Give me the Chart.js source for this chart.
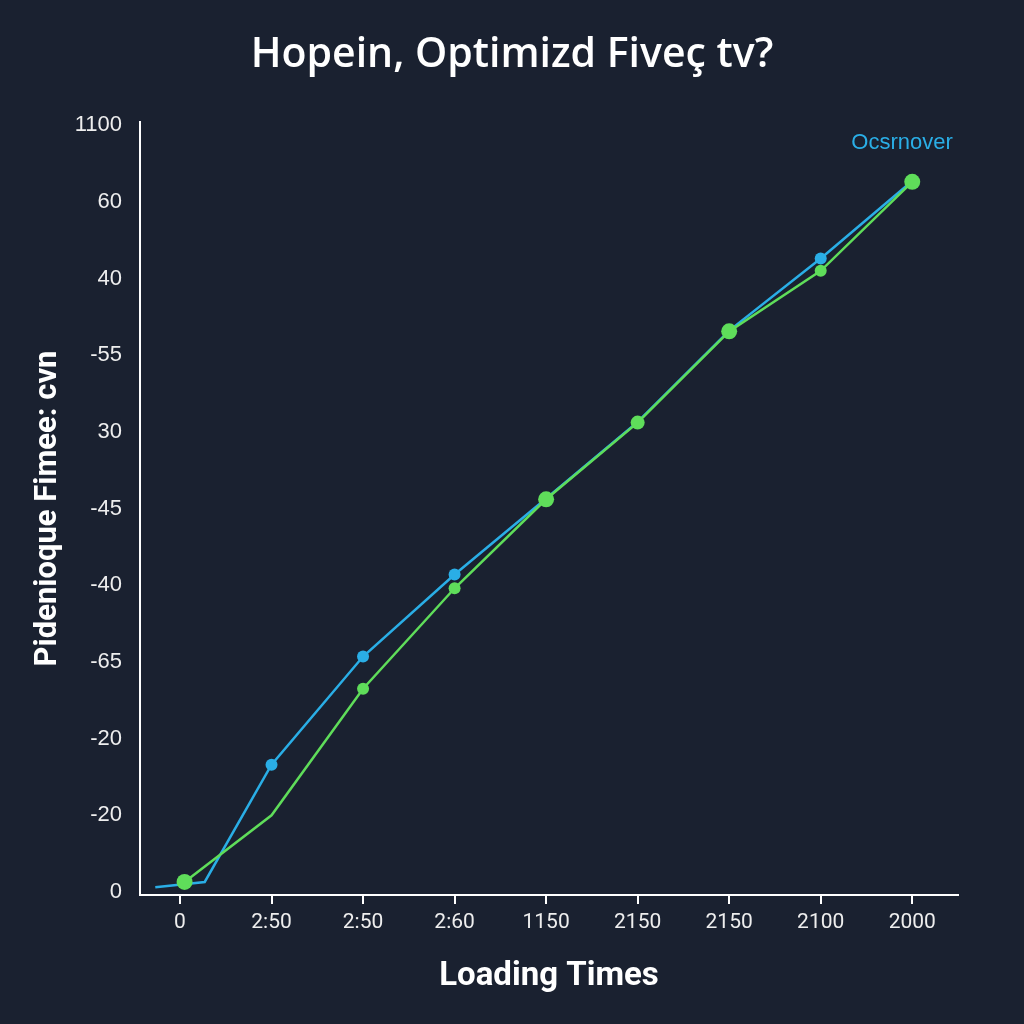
<!DOCTYPE html>
<html>
<head>
<meta charset="utf-8">
<script src="https://cdn.jsdelivr.net/npm/chart.js@4/dist/chart.umd.min.js"></script>
<style>
  html, body { margin: 0; padding: 0; background: #1a2130; }
  #wrap { width: 1024px; height: 1024px; }
</style>
</head>
<body>
<div id="wrap"><canvas id="c" width="1024" height="1024"></canvas></div>
<script>
const titleText = "Hopein, Optimizd Fiveç tv?";
const xTitle = "Loading Times";
const yTitle = "Pidenioque Fimee: cvn";
const legendText = "Ocsrnover";
const xTickLabels = ["0", "2:50", "2:50", "2:60", "1150", "2150", "2150", "2100", "2000"];
const yTickLabels = ["0", "-20", "-20", "-65", "-40", "-45", "30", "-55", "40", "60", "1100"];

const blueX = [-0.27, 0.27, 1, 2, 3, 4, 5, 6, 7, 8];
const blueY = [0.06, 0.13, 1.66, 3.07, 4.14, 5.13, 6.13, 7.32, 8.26, 9.27];
const blueRadius = [0, 0, 6, 6, 6, 5, 0, 6, 6, 6];

const greenX = [0.05, 1, 2, 3, 4, 5, 6, 7, 8];
const greenY = [0.13, 1.0, 2.65, 3.96, 5.12, 6.12, 7.31, 8.10, 9.26];
const greenRadius = [8, 0, 6, 6, 8, 7, 8, 6, 8];

const blueColor = "#2aaee6";
const greenColor = "#5fdd5a";

const toPts = (xs, ys) => xs.map((x, i) => ({ x: x, y: ys[i] }));

const textPlugin = {
  id: "textPlugin",
  afterDraw(chart) {
    const ctx = chart.ctx;
    const a = chart.chartArea;
    ctx.save();
    ctx.textAlign = "center";
    ctx.textBaseline = "middle";
    ctx.font = "600 41px 'Open Sans', 'Noto Sans', sans-serif";
    ctx.fillStyle = "#ffffff";
    ctx.fillText(titleText, chart.width / 2, 55);
    ctx.font = "22px 'Liberation Sans', Arial, sans-serif";
    ctx.fillStyle = blueColor;
    ctx.fillText(legendText, a.right - 56, a.top + 21);
    ctx.restore();
  }
};

new Chart(document.getElementById("c"), {
  type: "line",
  data: {
    datasets: [
      {
        label: legendText,
        data: toPts(blueX, blueY),
        borderColor: blueColor,
        backgroundColor: blueColor,
        borderWidth: 2.5,
        pointRadius: blueRadius,
        pointBorderWidth: 0,
        tension: 0,
        order: 1
      },
      {
        label: "green",
        data: toPts(greenX, greenY),
        borderColor: greenColor,
        backgroundColor: greenColor,
        borderWidth: 2.5,
        pointRadius: greenRadius,
        pointBorderWidth: 0,
        tension: 0,
        order: 0
      }
    ]
  },
  options: {
    responsive: false,
    animation: false,
    devicePixelRatio: 1,
    layout: { padding: { left: 0, right: 66, top: 122, bottom: 0 } },
    plugins: {
      legend: { display: false },
      tooltip: { enabled: false },
      title: { display: false }
    },
    scales: {
      x: {
        type: "linear",
        min: -0.437,
        max: 8.5,
        afterBuildTicks(scale) {
          scale.ticks = xTickLabels.map((_, i) => ({ value: i }));
        },
        afterFit(scale) { scale.height = 129; },
        ticks: {
          color: "#eeeeee",
          font: { family: "Roboto, sans-serif", size: 21 },
          padding: 6,
          maxRotation: 0,
          autoSkip: false,
          callback: (v) => xTickLabels[Math.round(v)] ?? ""
        },
        grid: {
          display: true,
          drawOnChartArea: false,
          drawTicks: true,
          tickLength: 9,
          color: "#ffffff",
          lineWidth: 2
        },
        border: { display: true, color: "#ffffff", width: 2 },
        title: {
          display: true,
          text: xTitle,
          color: "#ffffff",
          font: { family: "Roboto, sans-serif", size: 33, weight: "bold", lineHeight: 1.2 },
          padding: { top: 0, bottom: 27 }
        }
      },
      y: {
        type: "linear",
        min: -0.04,
        max: 10.04,
        afterBuildTicks(scale) {
          scale.ticks = yTickLabels.map((_, i) => ({ value: i }));
        },
        afterFit(scale) { scale.width = 140; },
        ticks: {
          color: "#eeeeee",
          font: { family: "'Liberation Sans', Arial, sans-serif", size: 22 },
          padding: 18,
          autoSkip: false,
          callback: (v) => yTickLabels[Math.round(v)] ?? ""
        },
        grid: { display: false, drawTicks: false },
        border: { display: true, color: "#ffffff", width: 2 },
        title: {
          display: true,
          text: yTitle,
          color: "#ffffff",
          font: { family: "Roboto, sans-serif", size: 31, weight: "bold", lineHeight: 1.2 },
          padding: { top: 30, bottom: 0 }
        }
      }
    }
  },
  plugins: [textPlugin]
});
</script>
</body>
</html>
